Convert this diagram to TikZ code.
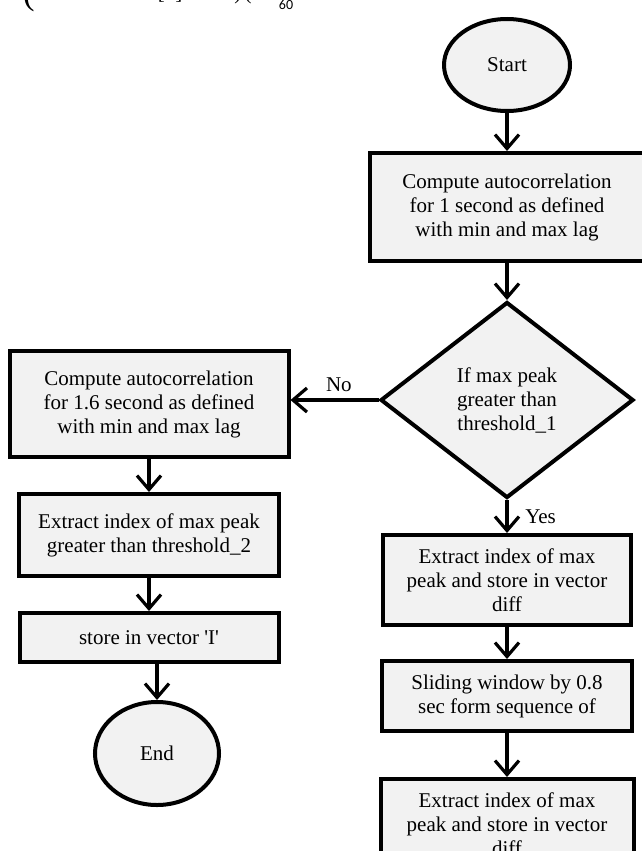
\documentclass[tikz,border=0pt]{standalone}
\usepackage{fontspec}
\setmainfont{Liberation Serif}
\newfontfamily\eqfont{Carlito}
\usepackage{tikz}
\usetikzlibrary{shapes.geometric, arrows.meta, positioning}
\definecolor{boxgray}{HTML}{F2F2F2}

\begin{document}
\begin{tikzpicture}[
  x=0.5pt, y=-0.5pt,
  font=\fontsize{10.5}{12}\selectfont,
  proc/.style={rectangle, draw, line width=2pt, fill=boxgray, inner sep=0pt, align=center},
  term/.style={ellipse, draw, line width=2pt, fill=boxgray, inner sep=0pt},
  cond/.style={diamond, draw, line width=2pt, fill=boxgray, inner sep=0pt, align=center},
  frag/.style={inner sep=0pt, anchor=south},
  arrow/.style={-{Straight Barb[length=7pt, width=12pt]}, line width=1.6pt},
]
\useasboundingbox (0,0) rectangle (642,851);

% cut-off equation from the page above
\node[frag, font=\LARGE] (eqa) at (29,12) {(};
\node[frag] (eqb) at (170,3) {[\ \ ]};
\node[frag] (eqc) at (243,4) {)\,(};
\node[inner sep=0pt, anchor=base, font=\eqfont\fontsize{7}{8}\selectfont] (eqd) at (286,10) {60};

\node[term, minimum width=63pt, minimum height=46pt] (start) at (507,65) {Start};
\node[proc, below=19pt of start, minimum width=137pt, minimum height=54pt] (cmpA) {Compute autocorrelation\\for 1 second as defined\\with min and max lag};
\node[cond, below=18.5pt of cmpA, minimum width=126.5pt, minimum height=98pt] (test) {If max peak\\greater than\\threshold\_1};

\node[proc, left=44pt of test, yshift=-2pt, minimum width=139.5pt, minimum height=53pt] (cmpB) {Compute autocorrelation\\for 1.6 second as defined\\with min and max lag};
\node[proc, below=16.5pt of cmpB, minimum width=130pt, minimum height=41pt] (peakB) {Extract index of max peak\\greater than threshold\_2};
\node[proc, below=16.5pt of peakB, minimum width=129.5pt, minimum height=24.5pt] (store) {store in vector \textquotesingle I\textquotesingle};
\node[term, below=18pt of store, xshift=4pt, minimum width=62pt, minimum height=51.5pt] (stop) {End};

\node[proc, below=16.5pt of test, minimum width=124pt, minimum height=45pt] (peakA) {Extract index of max\\peak and store in vector\\diff};
\node[proc, below=16pt of peakA, minimum width=125pt, minimum height=35pt] (slide) {Sliding window by 0.8\\sec form sequence of};
\node[proc, below=22pt of slide, minimum width=126.5pt, minimum height=45pt] (peakC) {Extract index of max\\peak and store in vector\\diff};

\draw[arrow] (start) -- (cmpA);
\draw[arrow] (cmpA) -- (test);
\draw[arrow] (test.west) -- node[above, pos=0.45] {No} (test.west -| cmpB.east);
\draw[arrow] (test) -- node[right, xshift=5pt, pos=0.5] {Yes} (peakA);
\draw[arrow] (cmpB) -- (peakB);
\draw[arrow] (peakB) -- (store);
\draw[arrow] (store.south -| stop) -- (stop);
\draw[arrow] (peakA) -- (slide);
\draw[arrow] (slide) -- (peakC);

\end{tikzpicture}
\end{document}
